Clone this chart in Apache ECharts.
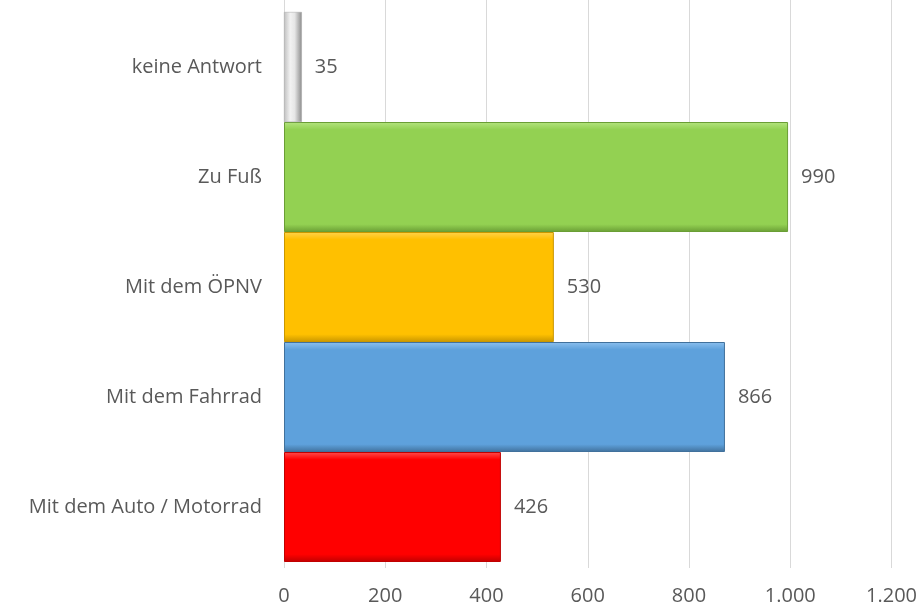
<!DOCTYPE html>
<html><head><meta charset="utf-8">
<script src="https://cdn.jsdelivr.net/npm/echarts@6/dist/echarts.min.js"></script>
<style>html,body{margin:0;padding:0;background:#fff}#c{width:920px;height:608px}</style>
</head><body><div id="c"></div>
<script>
const categories = ['Mit dem Auto / Motorrad', 'Mit dem Fahrrad', 'Mit dem ÖPNV', 'Zu Fuß', 'keine Antwort'];
const values = [426, 866, 530, 990, 35];
const xTicks = [0, 200, 400, 600, 800, 1000, 1200];

const palette = [
  {base:'#ff0000', light:'#ff4d4d', dark:'#c00000'},
  {base:'#5ea1dc', light:'#8cc0ee', dark:'#41719c'},
  {base:'#ffc000', light:'#ffd24d', dark:'#c99700'},
  {base:'#93d152', light:'#b4e47f', dark:'#6a9e35'},
  null
];
function fmt(v){ return String(v).replace(/\B(?=(\d{3})+(?!\d))/g, '.'); }
function style(i){
  const p = palette[i];
  if(!p){
    return {color:{type:'linear',x:0,y:0,x2:1,y2:0,colorStops:[
      {offset:0,color:'#bfbfbf'},{offset:0.35,color:'#f2f2f2'},{offset:0.6,color:'#e6e6e6'},{offset:1,color:'#8c8c8c'}]},
      borderColor:'#a6a6a6',borderWidth:0.5};
  }
  return {color:{type:'linear',x:0,y:0,x2:0,y2:1,colorStops:[
    {offset:0,color:p.light},{offset:0.07,color:p.base},{offset:0.93,color:p.base},{offset:1,color:p.dark}]},
    borderColor:p.dark,borderWidth:1};
}
const font = '"Open Sans", sans-serif';
const fs = 20;
const chart = echarts.init(document.getElementById('c'));
chart.setOption({
  animation:false,
  grid:[
    {left:284,right:25,top:0,bottom:40},
    {left:284,right:25,top:12,bottom:46}
  ],
  xAxis:[
    {gridIndex:0,type:'value',min:xTicks[0],max:xTicks[xTicks.length-1],interval:200,
     axisLine:{show:false},axisTick:{show:false},
     splitLine:{show:true,lineStyle:{color:'#d9d9d9',width:1}},
     axisLabel:{margin:18,color:'#595959',fontSize:fs,fontFamily:font,formatter:fmt}},
    {gridIndex:1,type:'value',min:xTicks[0],max:xTicks[xTicks.length-1],interval:200,show:false}
  ],
  yAxis:[
    {gridIndex:0,type:'category',data:categories,show:false},
    {gridIndex:1,type:'category',data:categories,
     axisLine:{show:false},axisTick:{show:false},
     axisLabel:{margin:22,color:'#595959',fontSize:fs,fontFamily:font}}
  ],
  series:[{
    type:'bar',xAxisIndex:1,yAxisIndex:1,barCategoryGap:'0%',
    data:values.map((v,i)=>({value:v,itemStyle:style(i)})),
    label:{show:true,position:'right',distance:13,color:'#595959',fontSize:fs,fontFamily:font,formatter:p=>fmt(p.value)}
  }]
});
</script></body></html>
